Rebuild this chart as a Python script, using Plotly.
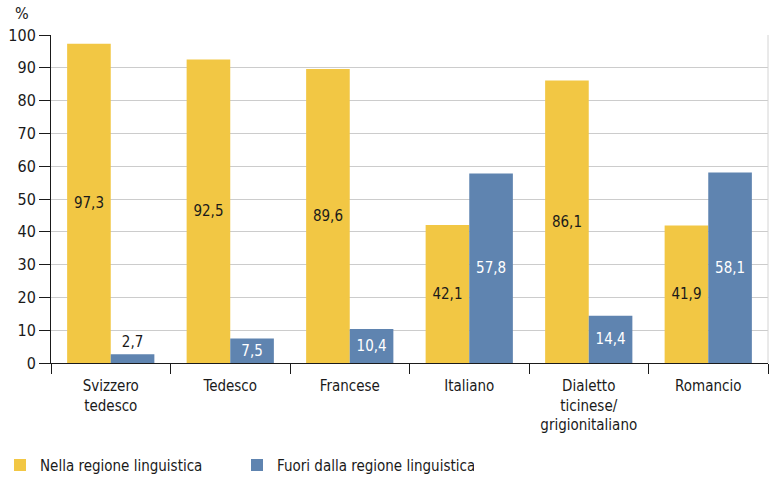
import plotly.graph_objects as go

# Language groups and share of speakers (%) inside / outside their language region
categories = ["Svizzero<br>tedesco", "Tedesco", "Francese", "Italiano",
              "Dialetto<br>ticinese/<br>grigionitaliano", "Romancio"]
nella_regione = [97.3, 92.5, 89.6, 42.1, 86.1, 41.9]
fuori_regione = [2.7, 7.5, 10.4, 57.8, 14.4, 58.1]
y_ticks = [0, 10, 20, 30, 40, 50, 60, 70, 80, 90, 100]

FONT = "DejaVu Sans Condensed, Liberation Sans Narrow, sans-serif"
YELLOW = "#F2C744"
BLUE = "#5F84B0"

fig = go.Figure()
fig.add_trace(go.Bar(
    x=categories, y=nella_regione, name="Nella regione linguistica",
    marker=dict(color=YELLOW, line=dict(width=0)),
    texttemplate="%{y:.1f}", textposition="auto", textangle=0,
    insidetextanchor="middle", constraintext="none",
    insidetextfont=dict(color="#1a1a1a", size=15, family=FONT),
    outsidetextfont=dict(color="#1a1a1a", size=15, family=FONT),
))
fig.add_trace(go.Bar(
    x=categories, y=fuori_regione, name="Fuori dalla regione linguistica",
    marker=dict(color=BLUE, line=dict(width=0)),
    texttemplate="%{y:.1f}", textposition="auto", textangle=0,
    insidetextanchor="middle", constraintext="none",
    insidetextfont=dict(color="white", size=15, family=FONT),
    outsidetextfont=dict(color="#1a1a1a", size=15, family=FONT),
))

fig.update_layout(
    width=774, height=481,
    margin=dict(l=51, r=6, t=35, b=118),
    paper_bgcolor="white", plot_bgcolor="white",
    font=dict(family=FONT, size=15, color="#1a1a1a"),
    separators=",.",
    barmode="group", bargap=0.27, bargroupgap=0,
    showlegend=True,
    legend=dict(
        orientation="h", xref="container", yref="container",
        x=0.0, y=0.033, xanchor="left", yanchor="middle",
        entrywidth=192, entrywidthmode="pixels",
        font=dict(size=15, family=FONT), itemsizing="constant",
    ),
    annotations=[dict(
        text="%", xref="paper", yref="paper", x=-0.053, y=1.03,
        xanchor="left", yanchor="bottom", showarrow=False,
        font=dict(size=16, family=FONT),
    )],
    shapes=[dict(
        type="line", xref="paper", yref="paper", x0=1, x1=1, y0=0, y1=1,
        line=dict(color="#d4d4d4", width=1),
    )],
)

fig.update_xaxes(
    showline=True, linecolor="#1a1a1a", linewidth=1,
    ticks="outside", tickson="boundaries", ticklen=10, tickcolor="#1a1a1a",
    showgrid=False, tickfont=dict(size=15, family=FONT),
    ticklabelstandoff=9,
)
fig.update_yaxes(
    range=[0, 100], tickvals=y_ticks,
    showline=True, linecolor="#1a1a1a", linewidth=1,
    ticks="outside", ticklen=11, tickcolor="#1a1a1a",
    showgrid=True, gridcolor="#cccccc", gridwidth=1,
    zeroline=False, tickfont=dict(size=16, family=FONT),
)

fig.write_html("out.html")
